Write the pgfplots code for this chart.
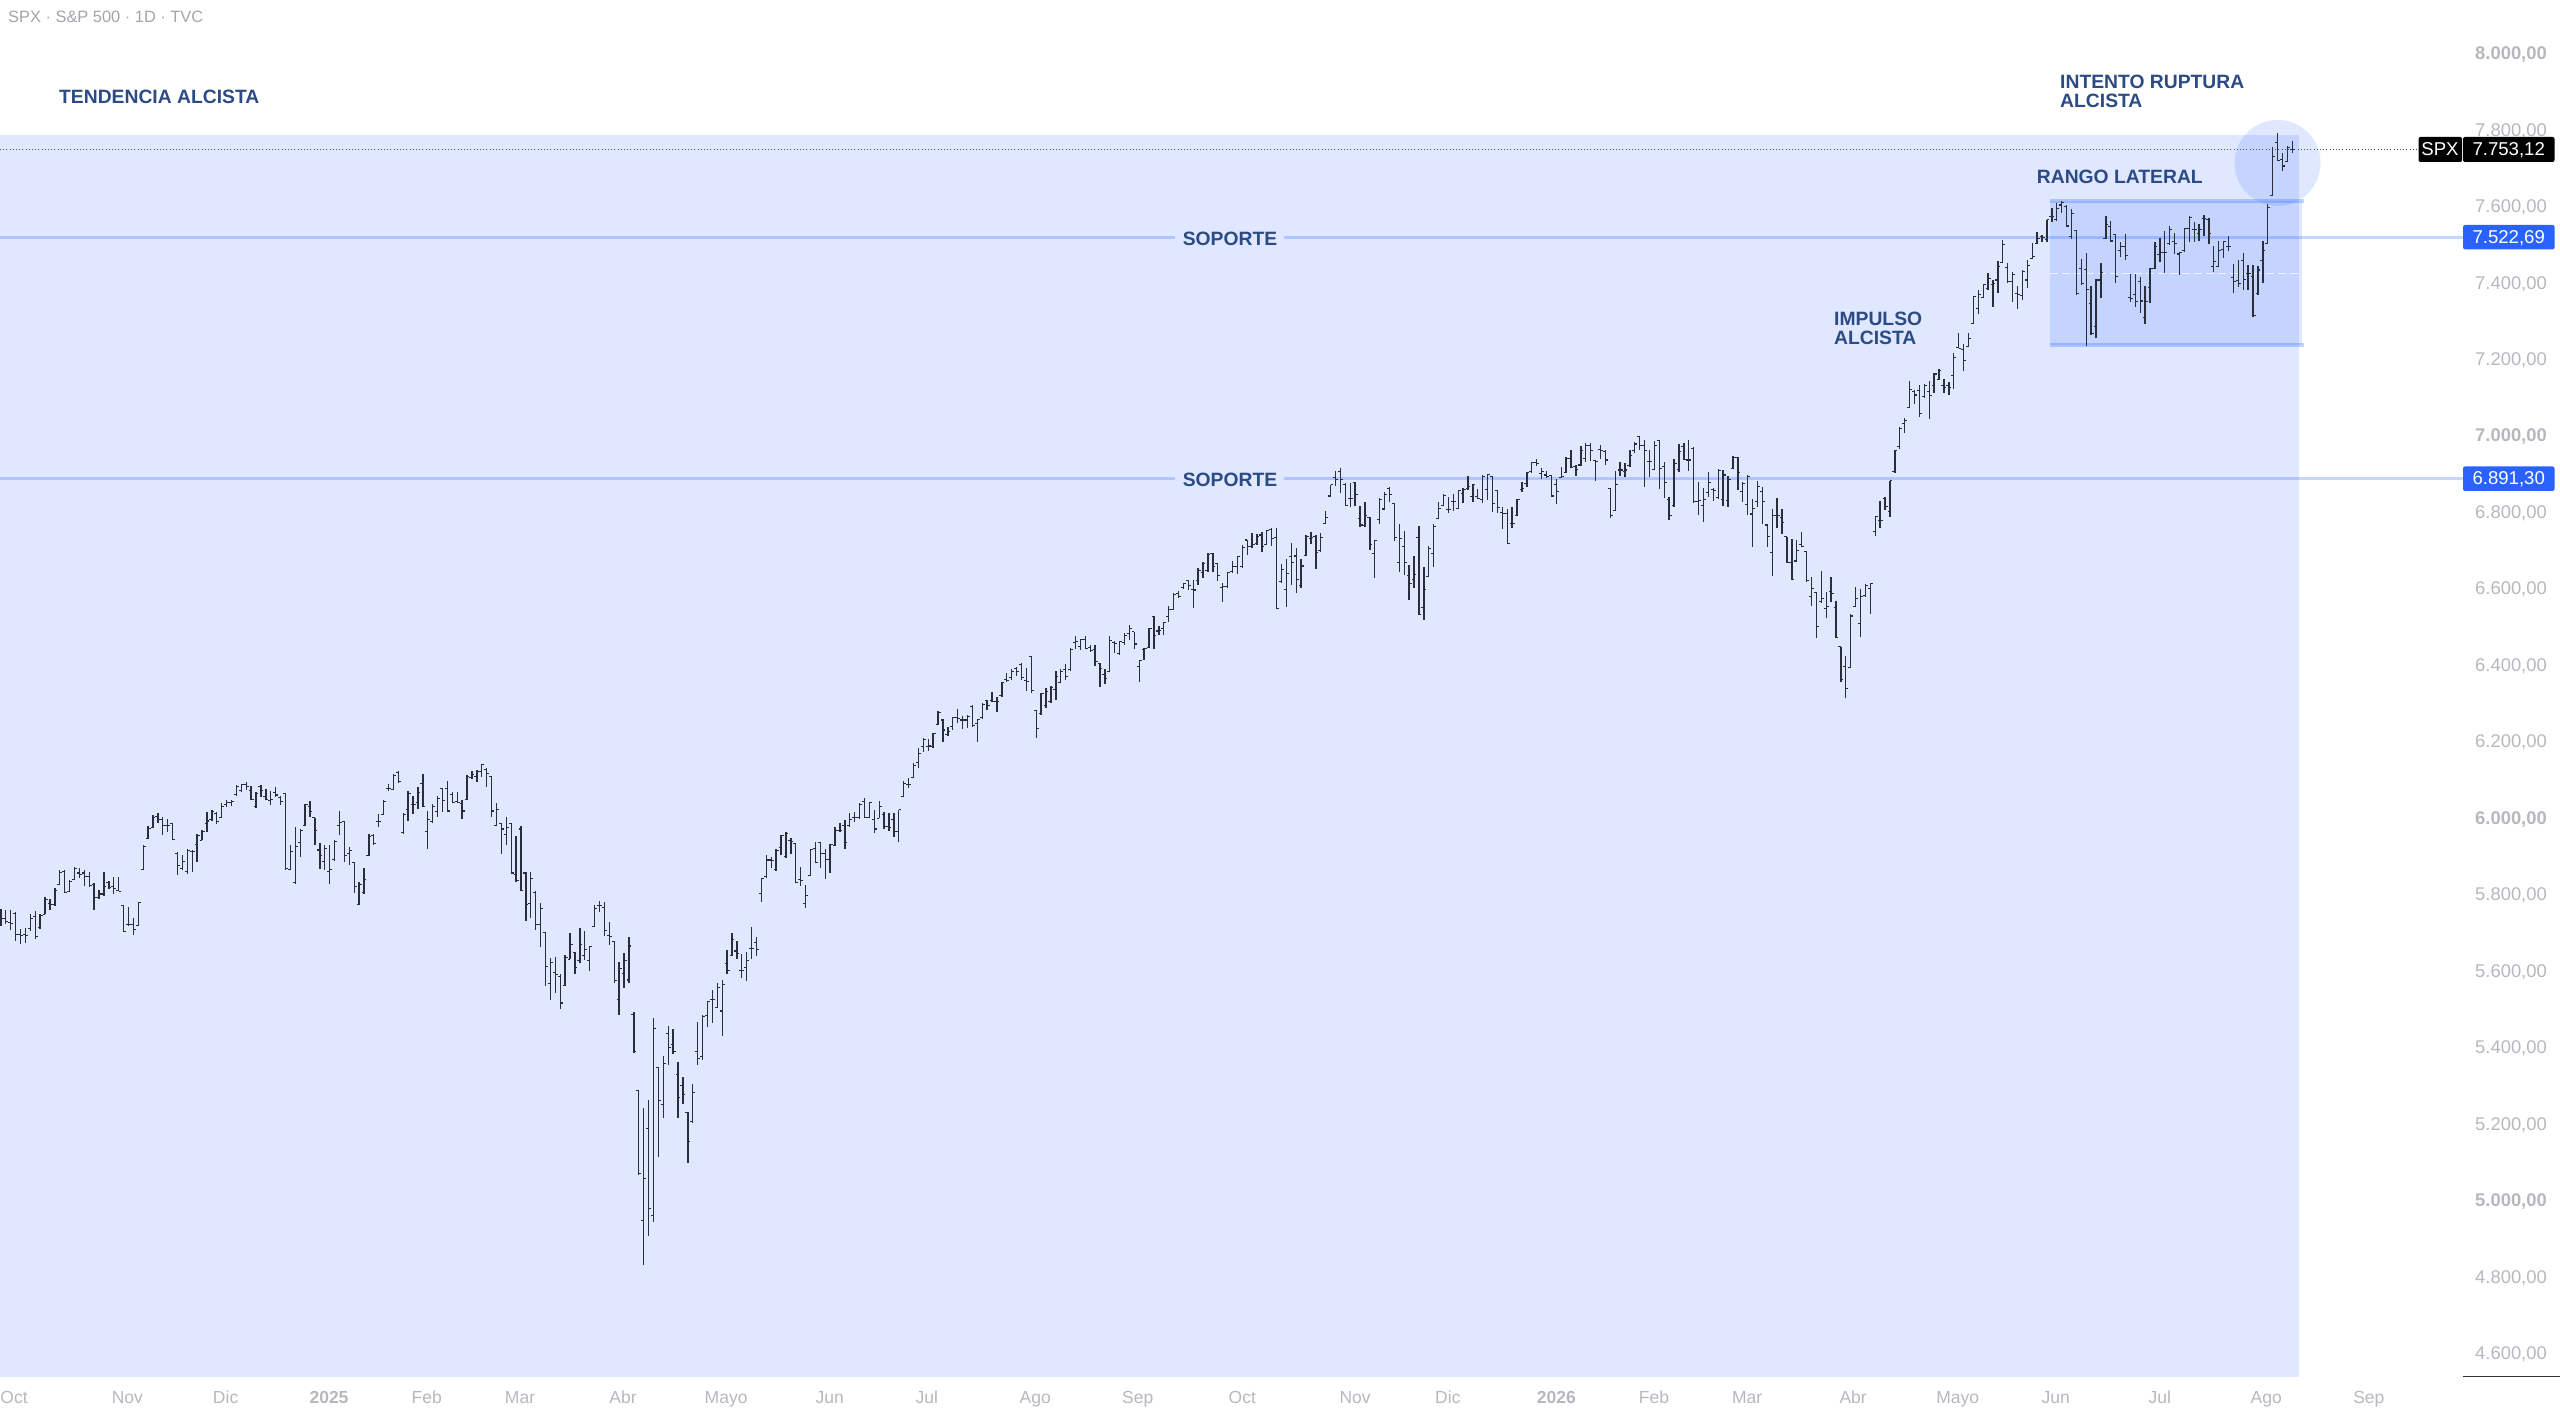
\documentclass[border=0pt]{standalone}
\usepackage{pgfplots}
\usepackage{pgfplotstable}
\usepackage{fontspec}
\setmainfont{Liberation Sans}
\pgfplotsset{compat=1.18}
\definecolor{tvblue}{HTML}{2962FF}
\definecolor{barc}{HTML}{2A2E3C}
\definecolor{annot}{HTML}{2C4A84}
\definecolor{tick}{HTML}{B6B8BE}
\definecolor{tickb}{HTML}{ABADB3}
\pgfplotstableread{
o h l c
5748 5765 5722 5742
5740 5762 5727 5734
5730 5762 5712 5727
5755 5759 5682 5700
5700 5714 5675 5697
5698 5717 5677 5697
5715 5752 5707 5742
5745 5760 5687 5695
5717 5754 5714 5748
5752 5796 5752 5790
5780 5792 5764 5777
5777 5820 5774 5815
5830 5867 5830 5862
5865 5869 5807 5810
5812 5842 5812 5838
5843 5875 5842 5872
5860 5872 5846 5855
5860 5867 5825 5850
5850 5862 5824 5828
5830 5834 5762 5795
5795 5815 5792 5805
5805 5862 5800 5825
5835 5839 5817 5822
5825 5850 5804 5820
5815 5850 5812 5812
5775 5775 5705 5707
5725 5771 5722 5725
5725 5742 5698 5712
5723 5783 5722 5782
5868 5934 5867 5930
5950 5982 5949 5977
5978 6012 5977 6005
6008 6016 5992 6000
6000 6007 5960 5985
5985 6002 5967 5985
5990 5992 5945 5947
5912 5914 5854 5880
5872 5907 5867 5890
5865 5922 5857 5918
5915 5919 5862 5915
5935 5962 5889 5958
5946 5972 5945 5968
5990 6019 5967 5996
6000 6024 5996 6020
6016 6020 5987 5995
6005 6042 6004 6035
6040 6050 6032 6045
6045 6052 6035 6047
6065 6090 6062 6086
6075 6094 6072 6092
6092 6097 6077 6085
6075 6087 6050 6052
6035 6072 6030 6068
6086 6090 6060 6075
6060 6080 6050 6052
6050 6074 6037 6052
6070 6084 6060 6064
6058 6062 6037 6048
6068 6070 5869 5872
5870 5934 5867 5915
5835 5980 5832 5930
5940 5975 5902 5972
5983 6040 5982 6038
6035 6047 6007 6020
6004 6005 5934 5970
5920 5939 5870 5905
5890 5934 5867 5925
5865 5934 5830 5868
5895 5947 5892 5942
5985 6022 5960 5992
5995 5997 5890 5905
5910 5927 5882 5918
5888 5889 5807 5825
5778 5837 5775 5830
5810 5872 5806 5843
5905 5962 5904 5955
5958 5962 5932 5937
5995 6014 5980 5995
6014 6050 6012 6048
6080 6094 6074 6082
6078 6120 6077 6115
6122 6127 6096 6100
5965 6016 5962 6012
6025 6074 5997 6068
6040 6062 6014 6040
6045 6084 6027 6070
6095 6120 6032 6033
5968 6022 5924 6000
5995 6040 5992 6035
6020 6062 6007 6055
6080 6082 6020 6050
6080 6100 6020 6022
6065 6072 6042 6045
6047 6072 6042 6045
6042 6050 6002 6022
6052 6115 6050 6112
6110 6127 6107 6118
6112 6129 6099 6125
6125 6146 6112 6143
6130 6134 6084 6120
6113 6114 6007 6022
5985 6042 5982 6025
5990 5992 5910 5975
5960 6007 5932 5980
5990 5992 5857 5860
5855 5957 5837 5840
5975 5984 5812 5815
5860 5862 5734 5778
5780 5862 5742 5845
5810 5812 5712 5725
5725 5782 5667 5767
5704 5705 5565 5615
5570 5637 5529 5625
5600 5640 5547 5595
5590 5597 5504 5520
5565 5645 5564 5640
5634 5704 5634 5674
5652 5654 5597 5613
5630 5715 5624 5674
5645 5709 5632 5661
5630 5669 5603 5667
5720 5776 5720 5766
5776 5786 5759 5776
5770 5783 5695 5709
5696 5733 5672 5693
5680 5683 5571 5578
5528 5626 5488 5610
5597 5650 5560 5632
5580 5693 5571 5669
5491 5497 5390 5393
5291 5291 5070 5073
4952 5244 4834 5061
5192 5266 4911 4982
4963 5482 4948 5454
5351 5352 5116 5266
5255 5380 5220 5362
5441 5460 5358 5404
5412 5451 5386 5393
5334 5365 5220 5273
5305 5327 5256 5281
5233 5234 5101 5158
5209 5308 5207 5285
5394 5469 5357 5375
5379 5488 5372 5484
5488 5526 5456 5525
5528 5554 5468 5528
5509 5571 5506 5561
5499 5580 5434 5569
5624 5658 5597 5604
5644 5702 5643 5686
5656 5682 5635 5650
5604 5647 5586 5606
5613 5654 5578 5631
5662 5720 5636 5662
5678 5692 5644 5659
5806 5845 5785 5845
5850 5907 5848 5894
5894 5903 5872 5892
5868 5922 5866 5918
5927 5959 5907 5957
5903 5966 5898 5963
5946 5951 5910 5942
5936 5938 5833 5835
5842 5876 5827 5840
5781 5829 5768 5802
5854 5922 5853 5921
5925 5940 5885 5887
5940 5942 5874 5912
5910 5922 5844 5896
5896 5936 5861 5935
5931 5980 5931 5971
5972 5990 5968 5972
5985 5998 5923 5940
5984 6016 5981 6000
6004 6020 5994 6004
6004 6042 6001 6040
6046 6057 6004 6006
6005 6045 6003 6044
6000 6026 5964 5975
6003 6049 6003 6033
6014 6020 5974 5981
5981 6016 5971 5978
5999 6016 5953 5968
5968 6026 5942 6025
6060 6101 6058 6094
6092 6108 6081 6091
6110 6147 6108 6142
6148 6188 6134 6173
6190 6214 6177 6208
6190 6210 6180 6192
6190 6227 6188 6225
6249 6284 6247 6280
6260 6262 6202 6234
6222 6241 6218 6230
6243 6269 6234 6267
6267 6289 6251 6264
6260 6271 6236 6260
6260 6273 6240 6270
6295 6299 6243 6245
6251 6264 6202 6262
6266 6304 6264 6301
6310 6312 6286 6297
6310 6334 6306 6308
6308 6321 6282 6308
6323 6359 6321 6358
6366 6382 6360 6363
6372 6393 6366 6387
6395 6400 6376 6387
6406 6410 6366 6372
6364 6395 6336 6360
6427 6427 6330 6338
6286 6286 6212 6238
6276 6330 6273 6330
6298 6343 6291 6334
6308 6350 6304 6345
6340 6389 6312 6375
6358 6393 6356 6387
6391 6407 6366 6373
6392 6448 6387 6445
6463 6480 6445 6465
6452 6471 6443 6471
6471 6480 6445 6448
6450 6456 6439 6443
6445 6455 6401 6413
6408 6408 6346 6395
6378 6393 6353 6369
6386 6480 6385 6469
6462 6467 6436 6461
6434 6467 6430 6465
6462 6487 6456 6482
6487 6509 6469 6500
6491 6491 6445 6459
6400 6415 6360 6415
6445 6448 6417 6448
6450 6502 6448 6500
6530 6532 6445 6482
6493 6506 6482 6495
6500 6517 6482 6515
6530 6557 6517 6550
6550 6593 6548 6589
6591 6598 6580 6584
6606 6619 6603 6616
6624 6626 6600 6613
6602 6625 6552 6600
6626 6657 6613 6652
6645 6674 6631 6670
6652 6698 6648 6694
6696 6698 6648 6661
6670 6672 6624 6639
6606 6619 6570 6609
6609 6648 6606 6646
6648 6677 6644 6661
6661 6690 6642 6687
6661 6718 6657 6712
6731 6731 6692 6713
6715 6750 6709 6718
6722 6746 6718 6740
6744 6753 6700 6713
6720 6757 6718 6755
6759 6763 6716 6735
6738 6761 6550 6552
6622 6667 6619 6654
6602 6680 6555 6644
6687 6724 6613 6672
6689 6709 6593 6628
6613 6680 6605 6663
6691 6744 6689 6741
6735 6751 6720 6738
6741 6744 6655 6698
6703 6750 6700 6738
6774 6808 6772 6790
6846 6875 6844 6875
6895 6911 6872 6890
6910 6920 6853 6890
6877 6879 6821 6822
6840 6881 6816 6840
6881 6882 6821 6850
6788 6820 6766 6770
6768 6829 6764 6794
6790 6792 6706 6720
6696 6731 6632 6729
6785 6842 6773 6837
6812 6856 6809 6850
6866 6869 6829 6851
6827 6827 6727 6737
6672 6773 6646 6735
6713 6754 6639 6672
6639 6665 6574 6618
6628 6689 6605 6641
6738 6768 6535 6537
6554 6659 6522 6602
6635 6715 6635 6709
6696 6774 6661 6767
6788 6831 6785 6814
6822 6850 6820 6848
6811 6844 6801 6811
6831 6851 6808 6831
6814 6862 6812 6860
6853 6866 6827 6863
6866 6897 6862 6870
6844 6877 6829 6875
6844 6864 6837 6839
6836 6901 6827 6897
6862 6904 6836 6902
6896 6898 6803 6827
6860 6862 6801 6815
6802 6818 6760 6801
6801 6812 6722 6722
6775 6816 6761 6775
6795 6837 6794 6836
6862 6882 6857 6866
6879 6910 6870 6908
6910 6936 6905 6933
6933 6944 6924 6931
6905 6920 6890 6910
6901 6912 6892 6897
6899 6901 6844 6846
6877 6890 6825 6857
6895 6921 6892 6898
6907 6947 6905 6945
6945 6966 6918 6921
6923 6927 6899 6916
6927 6978 6925 6966
6944 6985 6936 6979
6979 6985 6938 6965
6938 6938 6885 6936
6968 6979 6942 6966
6962 6966 6927 6940
6866 6868 6789 6794
6809 6911 6808 6875
6914 6936 6897 6914
6910 6933 6895 6914
6925 6965 6923 6951
6965 6988 6959 6982
7001 7003 6966 6979
6979 6992 6870 6966
6936 6966 6895 6936
6916 6991 6914 6979
6991 6992 6864 6918
6923 6936 6840 6882
6836 6844 6783 6796
6820 6944 6818 6931
6916 6982 6908 6962
6975 6985 6940 6942
6940 6992 6912 6940
6971 6973 6827 6831
6831 6882 6796 6835
6820 6866 6777 6837
6855 6910 6844 6882
6862 6866 6833 6860
6842 6916 6837 6912
6837 6914 6821 6901
6835 6898 6816 6890
6918 6951 6917 6946
6946 6947 6862 6908
6857 6882 6831 6879
6824 6901 6796 6897
6799 6838 6712 6814
6831 6885 6816 6870
6857 6870 6772 6831
6770 6772 6712 6740
6699 6811 6638 6796
6796 6842 6761 6796
6790 6811 6747 6776
6740 6740 6672 6672
6672 6733 6626 6628
6676 6731 6676 6703
6720 6753 6713 6715
6700 6702 6622 6624
6583 6635 6558 6605
6594 6596 6474 6504
6570 6651 6565 6578
6552 6596 6526 6557
6596 6633 6570 6591
6554 6572 6474 6475
6452 6452 6360 6367
6401 6427 6317 6343
6398 6537 6397 6532
6557 6609 6555 6578
6513 6602 6476 6583
6585 6616 6583 6613
6604 6618 6537 6616
6754 6792 6741 6792
6783 6834 6762 6783
6840 6844 6809 6818
6805 6886 6792 6886
6910 6966 6907 6966
6975 7026 6968 7023
7036 7049 7010 7043
7078 7148 7076 7125
7119 7122 7087 7110
7123 7136 7052 7062
7106 7138 7103 7136
7119 7147 7047 7108
7136 7167 7115 7165
7151 7177 7149 7174
7134 7152 7116 7130
7136 7145 7110 7130
7162 7219 7126 7209
7235 7273 7232 7232
7230 7243 7174 7200
7237 7273 7235 7258
7298 7367 7296 7367
7337 7385 7322 7374
7365 7401 7363 7398
7389 7428 7385 7414
7400 7411 7340 7402
7411 7461 7376 7446
7456 7516 7455 7503
7444 7455 7404 7407
7407 7433 7354 7426
7376 7396 7334 7374
7370 7437 7359 7434
7411 7463 7391 7448
7468 7507 7465 7472
7507 7537 7504 7520
7524 7529 7511 7523
7516 7568 7511 7568
7578 7598 7563 7578
7568 7613 7566 7598
7607 7618 7587 7613
7604 7607 7550 7552
7525 7597 7518 7584
7541 7542 7372 7375
7441 7465 7398 7402
7439 7482 7237 7387
7350 7396 7267 7270
7289 7413 7258 7411
7411 7456 7363 7430
7519 7578 7517 7555
7550 7566 7511 7513
7529 7530 7404 7420
7489 7511 7470 7498
7498 7530 7463 7474
7366 7426 7353 7363
7372 7426 7339 7354
7407 7420 7324 7356
7313 7395 7295 7354
7392 7443 7350 7441
7441 7509 7439 7498
7478 7522 7457 7482
7482 7540 7428 7482
7507 7552 7503 7542
7511 7535 7478 7507
7479 7485 7424 7482
7488 7548 7485 7546
7546 7578 7511 7575
7544 7563 7511 7542
7533 7557 7513 7542
7572 7581 7526 7572
7570 7572 7505 7533
7446 7500 7433 7459
7446 7514 7444 7489
7491 7513 7469 7511
7498 7526 7488 7498
7418 7452 7376 7407
7409 7462 7393 7402
7463 7481 7385 7413
7427 7450 7385 7427
7420 7450 7315 7317
7376 7448 7372 7437
7463 7513 7402 7489
7507 7610 7505 7601
7633 7758 7632 7734
7771 7795 7723 7723
7725 7742 7697 7709
7720 7761 7719 7758
7753 7775 7744 7753
}\ohlc
\begin{document}
\begin{tikzpicture}
\useasboundingbox (0,0) rectangle (2560pt,1413pt);
\begin{axis}[
  at={(0pt,0pt)}, anchor=south west,
  scale only axis, width=2560pt, height=1413pt,
  xmin=-0.1834, xmax=521.56, ymin=4447.6, ymax=8143.3,
  axis line style={draw=none}, tick style={draw=none}, major tick length=0pt,
  ytick={8000,7800,7600,7400,7200,7000,6800,6600,6400,6200,6000,5800,5600,5400,5200,5000,4800,4600},
  yticklabels={\textbf{8.000,00},{7.800,00},{7.600,00},{7.400,00},{7.200,00},\textbf{7.000,00},{6.800,00},{6.600,00},{6.400,00},{6.200,00},\textbf{6.000,00},{5.800,00},{5.600,00},{5.400,00},{5.200,00},\textbf{5.000,00},{4.800,00},{4.600,00}},
  yticklabel pos=right,
  y tick label style={anchor=east, xshift=-13pt, yshift=0.4pt, font=\fontsize{18.4}{20}\selectfont, text=tick, inner sep=0pt},
  xtick={2.67,25.78,45.8,66.87,86.8,105.8,126.8,147.8,168.9,188.7,210.8,231.7,253,276,294.9,317,336.9,355.9,377.5,398.8,418.8,440,461.7,482.6},
  xticklabels={Oct,Nov,Dic,\textbf{2025},Feb,Mar,Abr,Mayo,Jun,Jul,Ago,Sep,Oct,Nov,Dic,\textbf{2026},Feb,Mar,Abr,Mayo,Jun,Jul,Ago,Sep},
  x tick label style={anchor=base, yshift=9.5pt, font=\fontsize{17.5}{20}\selectfont, text=tick, inner sep=0pt},
]
% shaded trend zone, range box, breakout circle
\addplot[fill=tvblue, fill opacity=.15, draw=none, forget plot] coordinates {(-0.1834,4541.6)(468.4,4541.6)(468.4,7790)(-0.1834,7790)} -- cycle;
\addplot[fill=tvblue, fill opacity=.15, draw=none, forget plot] coordinates {(417.6,7241)(468.9,7241)(468.9,7617.6)(417.6,7617.6)} -- cycle;
\node[circle, fill=tvblue, fill opacity=.15, draw=none, minimum size=86pt, inner sep=0pt] at (axis cs:464,7717) {};
% box edges and mid line
\addplot[tvblue, opacity=.28, line width=3.2pt, forget plot] coordinates {(417.6,7617.6)(469.4,7617.6)};
\addplot[tvblue, opacity=.28, line width=3.2pt, forget plot] coordinates {(417.6,7241)(469.4,7241)};
\addplot[white, opacity=.75, line width=1.4pt, dash pattern=on 8pt off 4pt, forget plot] coordinates {(417.6,7428.5)(468.9,7428.5)};
% supports
\addplot[tvblue, opacity=.26, line width=3.2pt, forget plot] coordinates {(-0.1834,7522.69)(239.3,7522.69)};
\addplot[tvblue, opacity=.26, line width=3.2pt, forget plot] coordinates {(261.5,7522.69)(501.8,7522.69)};
\addplot[tvblue, opacity=.26, line width=3.2pt, forget plot] coordinates {(-0.1834,6891.30)(239.3,6891.30)};
\addplot[tvblue, opacity=.26, line width=3.2pt, forget plot] coordinates {(261.5,6891.30)(501.8,6891.30)};
% last price
\addplot[color=black!70, line width=.8pt, dash pattern=on 1pt off 2.2pt, forget plot] coordinates {(-0.1834,7753.12)(492.6,7753.12)};
% OHLC bars
\addplot[draw=none, mark=none, forget plot, error bars/.cd, y dir=plus, y explicit, error mark=none, error bar style={barc, line width=1.35pt}]
  table[x expr=\coordindex, y=l, y error expr=\thisrow{h}-\thisrow{l}] {\ohlc};
\addplot[draw=none, mark=none, forget plot, error bars/.cd, x dir=minus, x fixed=0.5, error mark=none, error bar style={barc, line width=1.1pt}]
  table[x expr=\coordindex, y=o] {\ohlc};
\addplot[draw=none, mark=none, forget plot, error bars/.cd, x dir=plus, x fixed=0.5, error mark=none, error bar style={barc, line width=1.1pt}]
  table[x expr=\coordindex, y=c] {\ohlc};
\end{axis}
% bottom-right rule
\draw[color=black!80, line width=1.2pt] (2462.7pt,36.7pt) -- (2560pt,36.7pt);
% header
\node[anchor=base west, inner sep=0pt, text=tick!90!black, font=\fontsize{16.4}{20}\selectfont] at (8pt,1390pt) {SPX · S\&P 500 · 1D · TVC};
% annotations
\begin{scope}[every node/.style={inner sep=0pt, text=annot, font=\fontsize{19.3}{20}\bfseries\selectfont}]
\node[anchor=base west] at (59pt,1309.3pt) {TENDENCIA ALCISTA};
\node[anchor=base west] at (2060pt,1324.6pt) {INTENTO RUPTURA};
\node[anchor=base west] at (2060pt,1305.3pt) {ALCISTA};
\node[anchor=base west] at (2036.7pt,1229.6pt) {RANGO LATERAL};
\node[anchor=base west] at (1834pt,1087.5pt) {IMPULSO};
\node[anchor=base west] at (1834pt,1068.3pt) {ALCISTA};
\node[anchor=base] at (1230pt,1167.7pt) {SOPORTE};
\node[anchor=base] at (1230pt,926.3pt) {SOPORTE};
\end{scope}
% price tags
\fill[black, rounded corners=2pt] (2418.5pt,1251pt) rectangle (2462pt,1276pt);
\fill[black, rounded corners=2pt] (2463pt,1251pt) rectangle (2554.5pt,1276pt);
\fill[tvblue, rounded corners=2pt] (2463pt,1163.7pt) rectangle (2554.5pt,1188pt);
\fill[tvblue, rounded corners=2pt] (2463pt,922pt) rectangle (2554.5pt,946.5pt);
\begin{scope}[every node/.style={inner sep=0pt, text=white, font=\fontsize{18.6}{20}\selectfont}]
\node[anchor=base] at (2440pt,1257pt) {SPX};
\node[anchor=base] at (2508.7pt,1257pt) {7.753,12};
\node[anchor=base] at (2508.7pt,1169.5pt) {7.522,69};
\node[anchor=base] at (2508.7pt,928pt) {6.891,30};
\end{scope}
\end{tikzpicture}
\end{document}
